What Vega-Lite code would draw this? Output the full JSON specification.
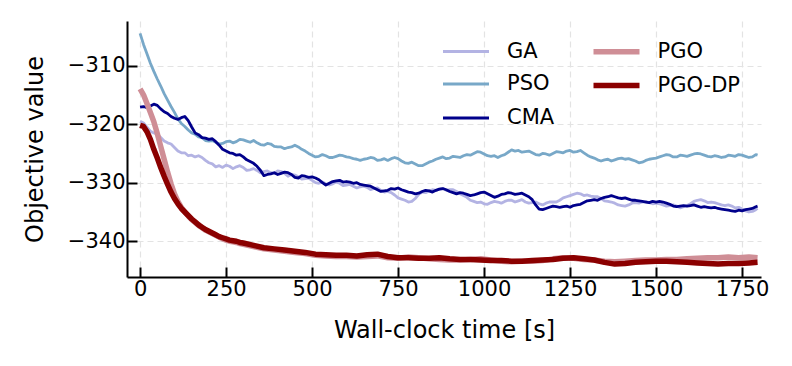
{
"$schema":"https://vega.github.io/schema/vega-lite/v6.json",
"width":634,"height":256,"autosize":"none",
"padding":{"left":127,"top":21,"right":31,"bottom":89},
"background":"white",
"config":{"view":{"stroke":null},"font":"DejaVu Sans"},
"data":{"values":[
{"t":0,"m":"GA","v":-319.5},{"t":10,"m":"GA","v":-319.8},{"t":20,"m":"GA","v":-320.5},{"t":30,"m":"GA","v":-321.2},{"t":40,"m":"GA","v":-321.5},{"t":50,"m":"GA","v":-321.7},{"t":60,"m":"GA","v":-322.3},{"t":70,"m":"GA","v":-322.9},{"t":80,"m":"GA","v":-323.2},{"t":90,"m":"GA","v":-323.4},{"t":100,"m":"GA","v":-324.0},{"t":110,"m":"GA","v":-324.6},{"t":120,"m":"GA","v":-324.9},{"t":130,"m":"GA","v":-324.9},{"t":140,"m":"GA","v":-325.4},{"t":150,"m":"GA","v":-325.3},{"t":160,"m":"GA","v":-325.6},{"t":170,"m":"GA","v":-325.4},{"t":180,"m":"GA","v":-325.7},{"t":190,"m":"GA","v":-326.2},{"t":200,"m":"GA","v":-326.6},{"t":210,"m":"GA","v":-326.8},{"t":220,"m":"GA","v":-327.3},{"t":230,"m":"GA","v":-327.1},{"t":240,"m":"GA","v":-327.4},{"t":250,"m":"GA","v":-327.0},{"t":260,"m":"GA","v":-327.2},{"t":270,"m":"GA","v":-327.6},{"t":280,"m":"GA","v":-327.3},{"t":290,"m":"GA","v":-327.1},{"t":300,"m":"GA","v":-327.4},{"t":310,"m":"GA","v":-327.9},{"t":320,"m":"GA","v":-327.8},{"t":330,"m":"GA","v":-327.6},{"t":340,"m":"GA","v":-327.9},{"t":350,"m":"GA","v":-328.3},{"t":360,"m":"GA","v":-328.1},{"t":370,"m":"GA","v":-328.0},{"t":380,"m":"GA","v":-328.3},{"t":390,"m":"GA","v":-328.4},{"t":400,"m":"GA","v":-328.0},{"t":410,"m":"GA","v":-328.1},{"t":420,"m":"GA","v":-328.4},{"t":430,"m":"GA","v":-328.9},{"t":440,"m":"GA","v":-328.6},{"t":450,"m":"GA","v":-328.7},{"t":460,"m":"GA","v":-329.0},{"t":470,"m":"GA","v":-329.4},{"t":480,"m":"GA","v":-329.3},{"t":490,"m":"GA","v":-329.2},{"t":500,"m":"GA","v":-329.6},{"t":510,"m":"GA","v":-330.0},{"t":520,"m":"GA","v":-330.1},{"t":530,"m":"GA","v":-329.9},{"t":540,"m":"GA","v":-330.2},{"t":550,"m":"GA","v":-330.4},{"t":560,"m":"GA","v":-330.2},{"t":570,"m":"GA","v":-329.9},{"t":580,"m":"GA","v":-330.1},{"t":590,"m":"GA","v":-330.5},{"t":600,"m":"GA","v":-330.4},{"t":610,"m":"GA","v":-330.3},{"t":620,"m":"GA","v":-330.6},{"t":630,"m":"GA","v":-330.9},{"t":640,"m":"GA","v":-330.7},{"t":650,"m":"GA","v":-330.6},{"t":660,"m":"GA","v":-330.8},{"t":670,"m":"GA","v":-331.2},{"t":680,"m":"GA","v":-331.0},{"t":690,"m":"GA","v":-330.9},{"t":700,"m":"GA","v":-331.3},{"t":710,"m":"GA","v":-331.6},{"t":720,"m":"GA","v":-331.5},{"t":730,"m":"GA","v":-331.7},{"t":740,"m":"GA","v":-332.1},{"t":750,"m":"GA","v":-332.6},{"t":760,"m":"GA","v":-332.8},{"t":770,"m":"GA","v":-333.0},{"t":780,"m":"GA","v":-333.3},{"t":790,"m":"GA","v":-333.2},{"t":800,"m":"GA","v":-332.7},{"t":810,"m":"GA","v":-332.0},{"t":820,"m":"GA","v":-331.6},{"t":830,"m":"GA","v":-331.7},{"t":840,"m":"GA","v":-331.4},{"t":850,"m":"GA","v":-331.2},{"t":860,"m":"GA","v":-331.3},{"t":870,"m":"GA","v":-331.1},{"t":880,"m":"GA","v":-331.0},{"t":890,"m":"GA","v":-331.3},{"t":900,"m":"GA","v":-331.2},{"t":910,"m":"GA","v":-331.2},{"t":920,"m":"GA","v":-331.5},{"t":930,"m":"GA","v":-331.9},{"t":940,"m":"GA","v":-332.2},{"t":950,"m":"GA","v":-332.5},{"t":960,"m":"GA","v":-333.0},{"t":970,"m":"GA","v":-333.2},{"t":980,"m":"GA","v":-333.4},{"t":990,"m":"GA","v":-333.3},{"t":1000,"m":"GA","v":-333.6},{"t":1010,"m":"GA","v":-333.7},{"t":1020,"m":"GA","v":-333.4},{"t":1030,"m":"GA","v":-333.2},{"t":1040,"m":"GA","v":-333.3},{"t":1050,"m":"GA","v":-333.5},{"t":1060,"m":"GA","v":-333.2},{"t":1070,"m":"GA","v":-333.0},{"t":1080,"m":"GA","v":-333.0},{"t":1090,"m":"GA","v":-333.3},{"t":1100,"m":"GA","v":-333.1},{"t":1110,"m":"GA","v":-332.9},{"t":1120,"m":"GA","v":-333.3},{"t":1130,"m":"GA","v":-333.5},{"t":1140,"m":"GA","v":-333.4},{"t":1150,"m":"GA","v":-333.3},{"t":1160,"m":"GA","v":-333.6},{"t":1170,"m":"GA","v":-333.8},{"t":1180,"m":"GA","v":-333.5},{"t":1190,"m":"GA","v":-333.3},{"t":1200,"m":"GA","v":-333.3},{"t":1210,"m":"GA","v":-333.3},{"t":1220,"m":"GA","v":-333.0},{"t":1230,"m":"GA","v":-332.6},{"t":1240,"m":"GA","v":-332.4},{"t":1250,"m":"GA","v":-332.2},{"t":1260,"m":"GA","v":-332.0},{"t":1270,"m":"GA","v":-331.8},{"t":1280,"m":"GA","v":-331.9},{"t":1290,"m":"GA","v":-332.2},{"t":1300,"m":"GA","v":-332.1},{"t":1310,"m":"GA","v":-332.3},{"t":1320,"m":"GA","v":-332.4},{"t":1330,"m":"GA","v":-332.4},{"t":1340,"m":"GA","v":-332.7},{"t":1350,"m":"GA","v":-333.1},{"t":1360,"m":"GA","v":-333.2},{"t":1370,"m":"GA","v":-333.3},{"t":1380,"m":"GA","v":-333.5},{"t":1390,"m":"GA","v":-333.8},{"t":1400,"m":"GA","v":-333.9},{"t":1410,"m":"GA","v":-334.0},{"t":1420,"m":"GA","v":-333.8},{"t":1430,"m":"GA","v":-333.5},{"t":1440,"m":"GA","v":-333.4},{"t":1450,"m":"GA","v":-333.5},{"t":1460,"m":"GA","v":-333.3},{"t":1470,"m":"GA","v":-333.2},{"t":1480,"m":"GA","v":-333.4},{"t":1490,"m":"GA","v":-333.6},{"t":1500,"m":"GA","v":-333.5},{"t":1510,"m":"GA","v":-333.6},{"t":1520,"m":"GA","v":-333.8},{"t":1530,"m":"GA","v":-334.0},{"t":1540,"m":"GA","v":-333.9},{"t":1550,"m":"GA","v":-333.8},{"t":1560,"m":"GA","v":-334.0},{"t":1570,"m":"GA","v":-334.3},{"t":1580,"m":"GA","v":-334.1},{"t":1590,"m":"GA","v":-333.9},{"t":1600,"m":"GA","v":-333.6},{"t":1610,"m":"GA","v":-333.2},{"t":1620,"m":"GA","v":-333.0},{"t":1630,"m":"GA","v":-332.9},{"t":1640,"m":"GA","v":-333.1},{"t":1650,"m":"GA","v":-333.4},{"t":1660,"m":"GA","v":-333.3},{"t":1670,"m":"GA","v":-333.4},{"t":1680,"m":"GA","v":-333.6},{"t":1690,"m":"GA","v":-333.8},{"t":1700,"m":"GA","v":-333.9},{"t":1710,"m":"GA","v":-333.8},{"t":1720,"m":"GA","v":-334.0},{"t":1730,"m":"GA","v":-334.3},{"t":1740,"m":"GA","v":-334.2},{"t":1750,"m":"GA","v":-334.5},{"t":1760,"m":"GA","v":-334.8},{"t":1770,"m":"GA","v":-335.0},{"t":1780,"m":"GA","v":-334.9},{"t":1790,"m":"GA","v":-334.6},{"t":1795,"m":"GA","v":-334.4},
{"t":0,"m":"PSO","v":-304.5},{"t":10,"m":"PSO","v":-306.4},{"t":20,"m":"PSO","v":-308.0},{"t":30,"m":"PSO","v":-309.6},{"t":40,"m":"PSO","v":-311.0},{"t":50,"m":"PSO","v":-312.3},{"t":60,"m":"PSO","v":-313.5},{"t":70,"m":"PSO","v":-314.8},{"t":80,"m":"PSO","v":-315.9},{"t":90,"m":"PSO","v":-317.0},{"t":100,"m":"PSO","v":-318.0},{"t":110,"m":"PSO","v":-319.1},{"t":120,"m":"PSO","v":-319.9},{"t":130,"m":"PSO","v":-320.4},{"t":140,"m":"PSO","v":-321.0},{"t":150,"m":"PSO","v":-321.5},{"t":160,"m":"PSO","v":-321.7},{"t":170,"m":"PSO","v":-322.2},{"t":180,"m":"PSO","v":-322.3},{"t":190,"m":"PSO","v":-322.8},{"t":200,"m":"PSO","v":-322.9},{"t":210,"m":"PSO","v":-322.8},{"t":220,"m":"PSO","v":-323.1},{"t":230,"m":"PSO","v":-323.4},{"t":240,"m":"PSO","v":-323.3},{"t":250,"m":"PSO","v":-323.0},{"t":260,"m":"PSO","v":-322.9},{"t":270,"m":"PSO","v":-323.2},{"t":280,"m":"PSO","v":-323.0},{"t":290,"m":"PSO","v":-322.6},{"t":300,"m":"PSO","v":-322.7},{"t":310,"m":"PSO","v":-322.9},{"t":320,"m":"PSO","v":-323.1},{"t":330,"m":"PSO","v":-322.8},{"t":340,"m":"PSO","v":-323.2},{"t":350,"m":"PSO","v":-323.5},{"t":360,"m":"PSO","v":-323.6},{"t":370,"m":"PSO","v":-323.3},{"t":380,"m":"PSO","v":-323.4},{"t":390,"m":"PSO","v":-323.8},{"t":400,"m":"PSO","v":-323.9},{"t":410,"m":"PSO","v":-323.9},{"t":420,"m":"PSO","v":-324.2},{"t":430,"m":"PSO","v":-324.0},{"t":440,"m":"PSO","v":-323.9},{"t":450,"m":"PSO","v":-323.6},{"t":460,"m":"PSO","v":-323.9},{"t":470,"m":"PSO","v":-324.3},{"t":480,"m":"PSO","v":-324.6},{"t":490,"m":"PSO","v":-325.0},{"t":500,"m":"PSO","v":-325.3},{"t":510,"m":"PSO","v":-325.6},{"t":520,"m":"PSO","v":-325.5},{"t":530,"m":"PSO","v":-325.2},{"t":540,"m":"PSO","v":-325.4},{"t":550,"m":"PSO","v":-325.7},{"t":560,"m":"PSO","v":-325.7},{"t":570,"m":"PSO","v":-325.5},{"t":580,"m":"PSO","v":-325.3},{"t":590,"m":"PSO","v":-325.4},{"t":600,"m":"PSO","v":-325.6},{"t":610,"m":"PSO","v":-325.7},{"t":620,"m":"PSO","v":-325.9},{"t":630,"m":"PSO","v":-326.0},{"t":640,"m":"PSO","v":-326.2},{"t":650,"m":"PSO","v":-326.0},{"t":660,"m":"PSO","v":-325.9},{"t":670,"m":"PSO","v":-325.7},{"t":680,"m":"PSO","v":-325.8},{"t":690,"m":"PSO","v":-326.2},{"t":700,"m":"PSO","v":-326.1},{"t":710,"m":"PSO","v":-325.9},{"t":720,"m":"PSO","v":-326.2},{"t":730,"m":"PSO","v":-325.9},{"t":740,"m":"PSO","v":-325.7},{"t":750,"m":"PSO","v":-325.9},{"t":760,"m":"PSO","v":-326.3},{"t":770,"m":"PSO","v":-326.6},{"t":780,"m":"PSO","v":-326.7},{"t":790,"m":"PSO","v":-326.5},{"t":800,"m":"PSO","v":-326.8},{"t":810,"m":"PSO","v":-327.1},{"t":820,"m":"PSO","v":-327.1},{"t":830,"m":"PSO","v":-326.8},{"t":840,"m":"PSO","v":-326.5},{"t":850,"m":"PSO","v":-326.3},{"t":860,"m":"PSO","v":-326.0},{"t":870,"m":"PSO","v":-325.8},{"t":880,"m":"PSO","v":-325.6},{"t":890,"m":"PSO","v":-325.9},{"t":900,"m":"PSO","v":-325.8},{"t":910,"m":"PSO","v":-325.5},{"t":920,"m":"PSO","v":-325.6},{"t":930,"m":"PSO","v":-325.7},{"t":940,"m":"PSO","v":-325.4},{"t":950,"m":"PSO","v":-325.2},{"t":960,"m":"PSO","v":-325.3},{"t":970,"m":"PSO","v":-325.0},{"t":980,"m":"PSO","v":-324.7},{"t":990,"m":"PSO","v":-324.8},{"t":1000,"m":"PSO","v":-325.1},{"t":1010,"m":"PSO","v":-325.4},{"t":1020,"m":"PSO","v":-325.5},{"t":1030,"m":"PSO","v":-325.4},{"t":1040,"m":"PSO","v":-325.7},{"t":1050,"m":"PSO","v":-325.4},{"t":1060,"m":"PSO","v":-325.2},{"t":1070,"m":"PSO","v":-324.8},{"t":1080,"m":"PSO","v":-324.4},{"t":1090,"m":"PSO","v":-324.6},{"t":1100,"m":"PSO","v":-324.5},{"t":1110,"m":"PSO","v":-324.8},{"t":1120,"m":"PSO","v":-324.7},{"t":1130,"m":"PSO","v":-324.6},{"t":1140,"m":"PSO","v":-324.9},{"t":1150,"m":"PSO","v":-325.2},{"t":1160,"m":"PSO","v":-325.3},{"t":1170,"m":"PSO","v":-325.0},{"t":1180,"m":"PSO","v":-325.1},{"t":1190,"m":"PSO","v":-325.3},{"t":1200,"m":"PSO","v":-325.0},{"t":1210,"m":"PSO","v":-324.7},{"t":1220,"m":"PSO","v":-324.8},{"t":1230,"m":"PSO","v":-324.9},{"t":1240,"m":"PSO","v":-324.6},{"t":1250,"m":"PSO","v":-324.5},{"t":1260,"m":"PSO","v":-324.8},{"t":1270,"m":"PSO","v":-324.7},{"t":1280,"m":"PSO","v":-324.5},{"t":1290,"m":"PSO","v":-324.9},{"t":1300,"m":"PSO","v":-325.3},{"t":1310,"m":"PSO","v":-325.6},{"t":1320,"m":"PSO","v":-325.8},{"t":1330,"m":"PSO","v":-326.1},{"t":1340,"m":"PSO","v":-326.3},{"t":1350,"m":"PSO","v":-326.1},{"t":1360,"m":"PSO","v":-326.0},{"t":1370,"m":"PSO","v":-326.3},{"t":1380,"m":"PSO","v":-326.1},{"t":1390,"m":"PSO","v":-325.9},{"t":1400,"m":"PSO","v":-325.8},{"t":1410,"m":"PSO","v":-326.0},{"t":1420,"m":"PSO","v":-325.9},{"t":1430,"m":"PSO","v":-326.1},{"t":1440,"m":"PSO","v":-326.3},{"t":1450,"m":"PSO","v":-326.6},{"t":1460,"m":"PSO","v":-326.5},{"t":1470,"m":"PSO","v":-326.2},{"t":1480,"m":"PSO","v":-326.0},{"t":1490,"m":"PSO","v":-325.9},{"t":1500,"m":"PSO","v":-325.8},{"t":1510,"m":"PSO","v":-325.6},{"t":1520,"m":"PSO","v":-325.4},{"t":1530,"m":"PSO","v":-325.2},{"t":1540,"m":"PSO","v":-325.3},{"t":1550,"m":"PSO","v":-325.6},{"t":1560,"m":"PSO","v":-325.6},{"t":1570,"m":"PSO","v":-325.3},{"t":1580,"m":"PSO","v":-325.4},{"t":1590,"m":"PSO","v":-325.5},{"t":1600,"m":"PSO","v":-325.3},{"t":1610,"m":"PSO","v":-325.1},{"t":1620,"m":"PSO","v":-325.0},{"t":1630,"m":"PSO","v":-325.1},{"t":1640,"m":"PSO","v":-325.3},{"t":1650,"m":"PSO","v":-325.5},{"t":1660,"m":"PSO","v":-325.6},{"t":1670,"m":"PSO","v":-325.4},{"t":1680,"m":"PSO","v":-325.5},{"t":1690,"m":"PSO","v":-325.7},{"t":1700,"m":"PSO","v":-325.6},{"t":1710,"m":"PSO","v":-325.3},{"t":1720,"m":"PSO","v":-325.4},{"t":1730,"m":"PSO","v":-325.5},{"t":1740,"m":"PSO","v":-325.2},{"t":1750,"m":"PSO","v":-325.3},{"t":1760,"m":"PSO","v":-325.5},{"t":1770,"m":"PSO","v":-325.7},{"t":1780,"m":"PSO","v":-325.6},{"t":1790,"m":"PSO","v":-325.2},{"t":1795,"m":"PSO","v":-325.3},
{"t":0,"m":"CMA","v":-317.1},{"t":10,"m":"CMA","v":-317.0},{"t":20,"m":"CMA","v":-317.2},{"t":30,"m":"CMA","v":-316.9},{"t":40,"m":"CMA","v":-316.6},{"t":50,"m":"CMA","v":-316.8},{"t":60,"m":"CMA","v":-317.4},{"t":70,"m":"CMA","v":-317.9},{"t":80,"m":"CMA","v":-318.2},{"t":90,"m":"CMA","v":-318.7},{"t":100,"m":"CMA","v":-319.0},{"t":110,"m":"CMA","v":-319.2},{"t":120,"m":"CMA","v":-318.9},{"t":130,"m":"CMA","v":-318.7},{"t":140,"m":"CMA","v":-319.4},{"t":150,"m":"CMA","v":-320.5},{"t":160,"m":"CMA","v":-321.5},{"t":170,"m":"CMA","v":-321.8},{"t":180,"m":"CMA","v":-322.3},{"t":190,"m":"CMA","v":-322.4},{"t":200,"m":"CMA","v":-322.6},{"t":210,"m":"CMA","v":-322.5},{"t":220,"m":"CMA","v":-323.0},{"t":230,"m":"CMA","v":-323.6},{"t":240,"m":"CMA","v":-324.3},{"t":250,"m":"CMA","v":-324.6},{"t":260,"m":"CMA","v":-324.9},{"t":270,"m":"CMA","v":-325.0},{"t":280,"m":"CMA","v":-325.3},{"t":290,"m":"CMA","v":-325.2},{"t":300,"m":"CMA","v":-325.6},{"t":310,"m":"CMA","v":-326.1},{"t":320,"m":"CMA","v":-326.4},{"t":330,"m":"CMA","v":-326.7},{"t":340,"m":"CMA","v":-327.2},{"t":350,"m":"CMA","v":-327.9},{"t":360,"m":"CMA","v":-328.8},{"t":370,"m":"CMA","v":-328.6},{"t":380,"m":"CMA","v":-328.5},{"t":390,"m":"CMA","v":-328.3},{"t":400,"m":"CMA","v":-328.6},{"t":410,"m":"CMA","v":-328.4},{"t":420,"m":"CMA","v":-328.2},{"t":430,"m":"CMA","v":-328.3},{"t":440,"m":"CMA","v":-328.6},{"t":450,"m":"CMA","v":-329.1},{"t":460,"m":"CMA","v":-329.2},{"t":470,"m":"CMA","v":-328.8},{"t":480,"m":"CMA","v":-328.9},{"t":490,"m":"CMA","v":-329.1},{"t":500,"m":"CMA","v":-329.0},{"t":510,"m":"CMA","v":-329.2},{"t":520,"m":"CMA","v":-329.5},{"t":530,"m":"CMA","v":-330.0},{"t":540,"m":"CMA","v":-330.4},{"t":550,"m":"CMA","v":-330.1},{"t":560,"m":"CMA","v":-329.8},{"t":570,"m":"CMA","v":-329.7},{"t":580,"m":"CMA","v":-329.6},{"t":590,"m":"CMA","v":-329.9},{"t":600,"m":"CMA","v":-329.8},{"t":610,"m":"CMA","v":-329.9},{"t":620,"m":"CMA","v":-330.1},{"t":630,"m":"CMA","v":-330.0},{"t":640,"m":"CMA","v":-330.3},{"t":650,"m":"CMA","v":-330.4},{"t":660,"m":"CMA","v":-330.5},{"t":670,"m":"CMA","v":-330.6},{"t":680,"m":"CMA","v":-330.9},{"t":690,"m":"CMA","v":-331.2},{"t":700,"m":"CMA","v":-331.5},{"t":710,"m":"CMA","v":-331.4},{"t":720,"m":"CMA","v":-331.3},{"t":730,"m":"CMA","v":-331.0},{"t":740,"m":"CMA","v":-331.1},{"t":750,"m":"CMA","v":-330.9},{"t":760,"m":"CMA","v":-331.2},{"t":770,"m":"CMA","v":-331.4},{"t":780,"m":"CMA","v":-331.6},{"t":790,"m":"CMA","v":-331.7},{"t":800,"m":"CMA","v":-331.9},{"t":810,"m":"CMA","v":-331.8},{"t":820,"m":"CMA","v":-331.5},{"t":830,"m":"CMA","v":-331.3},{"t":840,"m":"CMA","v":-331.4},{"t":850,"m":"CMA","v":-331.6},{"t":860,"m":"CMA","v":-331.3},{"t":870,"m":"CMA","v":-331.1},{"t":880,"m":"CMA","v":-331.0},{"t":890,"m":"CMA","v":-331.2},{"t":900,"m":"CMA","v":-331.5},{"t":910,"m":"CMA","v":-331.7},{"t":920,"m":"CMA","v":-331.9},{"t":930,"m":"CMA","v":-331.7},{"t":940,"m":"CMA","v":-331.8},{"t":950,"m":"CMA","v":-332.0},{"t":960,"m":"CMA","v":-332.2},{"t":970,"m":"CMA","v":-332.1},{"t":980,"m":"CMA","v":-331.9},{"t":990,"m":"CMA","v":-331.7},{"t":1000,"m":"CMA","v":-331.6},{"t":1010,"m":"CMA","v":-331.9},{"t":1020,"m":"CMA","v":-332.2},{"t":1030,"m":"CMA","v":-332.5},{"t":1040,"m":"CMA","v":-332.3},{"t":1050,"m":"CMA","v":-332.0},{"t":1060,"m":"CMA","v":-331.9},{"t":1070,"m":"CMA","v":-331.7},{"t":1080,"m":"CMA","v":-331.8},{"t":1090,"m":"CMA","v":-332.0},{"t":1100,"m":"CMA","v":-331.9},{"t":1110,"m":"CMA","v":-331.8},{"t":1120,"m":"CMA","v":-332.1},{"t":1130,"m":"CMA","v":-332.4},{"t":1140,"m":"CMA","v":-332.9},{"t":1150,"m":"CMA","v":-333.8},{"t":1160,"m":"CMA","v":-334.5},{"t":1170,"m":"CMA","v":-334.6},{"t":1180,"m":"CMA","v":-334.4},{"t":1190,"m":"CMA","v":-334.2},{"t":1200,"m":"CMA","v":-334.0},{"t":1210,"m":"CMA","v":-334.1},{"t":1220,"m":"CMA","v":-334.2},{"t":1230,"m":"CMA","v":-334.1},{"t":1240,"m":"CMA","v":-334.0},{"t":1250,"m":"CMA","v":-334.2},{"t":1260,"m":"CMA","v":-333.9},{"t":1270,"m":"CMA","v":-333.8},{"t":1280,"m":"CMA","v":-333.7},{"t":1290,"m":"CMA","v":-333.4},{"t":1300,"m":"CMA","v":-333.1},{"t":1310,"m":"CMA","v":-333.0},{"t":1320,"m":"CMA","v":-332.9},{"t":1330,"m":"CMA","v":-333.0},{"t":1340,"m":"CMA","v":-332.7},{"t":1350,"m":"CMA","v":-332.5},{"t":1360,"m":"CMA","v":-332.4},{"t":1370,"m":"CMA","v":-332.2},{"t":1380,"m":"CMA","v":-332.4},{"t":1390,"m":"CMA","v":-332.6},{"t":1400,"m":"CMA","v":-332.7},{"t":1410,"m":"CMA","v":-332.6},{"t":1420,"m":"CMA","v":-332.8},{"t":1430,"m":"CMA","v":-333.0},{"t":1440,"m":"CMA","v":-333.0},{"t":1450,"m":"CMA","v":-333.1},{"t":1460,"m":"CMA","v":-333.2},{"t":1470,"m":"CMA","v":-333.3},{"t":1480,"m":"CMA","v":-333.4},{"t":1490,"m":"CMA","v":-333.2},{"t":1500,"m":"CMA","v":-333.3},{"t":1510,"m":"CMA","v":-333.2},{"t":1520,"m":"CMA","v":-333.3},{"t":1530,"m":"CMA","v":-333.5},{"t":1540,"m":"CMA","v":-333.7},{"t":1550,"m":"CMA","v":-334.0},{"t":1560,"m":"CMA","v":-334.1},{"t":1570,"m":"CMA","v":-334.0},{"t":1580,"m":"CMA","v":-333.9},{"t":1590,"m":"CMA","v":-334.0},{"t":1600,"m":"CMA","v":-333.9},{"t":1610,"m":"CMA","v":-333.8},{"t":1620,"m":"CMA","v":-334.0},{"t":1630,"m":"CMA","v":-334.2},{"t":1640,"m":"CMA","v":-334.1},{"t":1650,"m":"CMA","v":-334.2},{"t":1660,"m":"CMA","v":-334.3},{"t":1670,"m":"CMA","v":-334.2},{"t":1680,"m":"CMA","v":-334.4},{"t":1690,"m":"CMA","v":-334.5},{"t":1700,"m":"CMA","v":-334.6},{"t":1710,"m":"CMA","v":-334.7},{"t":1720,"m":"CMA","v":-334.8},{"t":1730,"m":"CMA","v":-334.9},{"t":1740,"m":"CMA","v":-334.7},{"t":1750,"m":"CMA","v":-334.8},{"t":1760,"m":"CMA","v":-334.6},{"t":1770,"m":"CMA","v":-334.5},{"t":1780,"m":"CMA","v":-334.4},{"t":1790,"m":"CMA","v":-334.1},{"t":1795,"m":"CMA","v":-334.0},
{"t":0,"m":"PGO","v":-314.0},{"t":10,"m":"PGO","v":-315.0},{"t":20,"m":"PGO","v":-316.5},{"t":30,"m":"PGO","v":-318.0},{"t":40,"m":"PGO","v":-319.6},{"t":50,"m":"PGO","v":-321.6},{"t":60,"m":"PGO","v":-323.8},{"t":70,"m":"PGO","v":-326.0},{"t":80,"m":"PGO","v":-328.2},{"t":90,"m":"PGO","v":-330.2},{"t":100,"m":"PGO","v":-331.9},{"t":110,"m":"PGO","v":-333.2},{"t":120,"m":"PGO","v":-334.2},{"t":130,"m":"PGO","v":-335.0},{"t":140,"m":"PGO","v":-335.7},{"t":150,"m":"PGO","v":-336.3},{"t":160,"m":"PGO","v":-336.8},{"t":170,"m":"PGO","v":-337.3},{"t":180,"m":"PGO","v":-337.7},{"t":190,"m":"PGO","v":-338.1},{"t":200,"m":"PGO","v":-338.4},{"t":210,"m":"PGO","v":-338.7},{"t":220,"m":"PGO","v":-339.0},{"t":230,"m":"PGO","v":-339.3},{"t":240,"m":"PGO","v":-339.6},{"t":250,"m":"PGO","v":-339.8},{"t":260,"m":"PGO","v":-340.0},{"t":270,"m":"PGO","v":-340.1},{"t":280,"m":"PGO","v":-340.2},{"t":290,"m":"PGO","v":-340.4},{"t":300,"m":"PGO","v":-340.5},{"t":330,"m":"PGO","v":-340.9},{"t":360,"m":"PGO","v":-341.3},{"t":390,"m":"PGO","v":-341.5},{"t":420,"m":"PGO","v":-341.7},{"t":450,"m":"PGO","v":-341.9},{"t":480,"m":"PGO","v":-342.1},{"t":510,"m":"PGO","v":-342.4},{"t":540,"m":"PGO","v":-342.5},{"t":570,"m":"PGO","v":-342.6},{"t":600,"m":"PGO","v":-342.6},{"t":630,"m":"PGO","v":-342.7},{"t":660,"m":"PGO","v":-342.6},{"t":690,"m":"PGO","v":-342.5},{"t":720,"m":"PGO","v":-342.8},{"t":750,"m":"PGO","v":-342.9},{"t":780,"m":"PGO","v":-342.7},{"t":810,"m":"PGO","v":-342.8},{"t":840,"m":"PGO","v":-343.0},{"t":870,"m":"PGO","v":-343.1},{"t":900,"m":"PGO","v":-343.2},{"t":930,"m":"PGO","v":-343.2},{"t":960,"m":"PGO","v":-343.1},{"t":990,"m":"PGO","v":-343.0},{"t":1020,"m":"PGO","v":-343.2},{"t":1050,"m":"PGO","v":-343.4},{"t":1080,"m":"PGO","v":-343.5},{"t":1110,"m":"PGO","v":-343.4},{"t":1140,"m":"PGO","v":-343.4},{"t":1170,"m":"PGO","v":-343.3},{"t":1200,"m":"PGO","v":-343.0},{"t":1230,"m":"PGO","v":-342.8},{"t":1260,"m":"PGO","v":-342.9},{"t":1290,"m":"PGO","v":-343.1},{"t":1320,"m":"PGO","v":-343.2},{"t":1350,"m":"PGO","v":-343.4},{"t":1380,"m":"PGO","v":-343.5},{"t":1410,"m":"PGO","v":-343.4},{"t":1440,"m":"PGO","v":-343.3},{"t":1470,"m":"PGO","v":-343.2},{"t":1500,"m":"PGO","v":-343.2},{"t":1530,"m":"PGO","v":-343.1},{"t":1560,"m":"PGO","v":-343.1},{"t":1590,"m":"PGO","v":-343.0},{"t":1620,"m":"PGO","v":-342.9},{"t":1650,"m":"PGO","v":-342.8},{"t":1680,"m":"PGO","v":-342.8},{"t":1710,"m":"PGO","v":-342.7},{"t":1740,"m":"PGO","v":-342.8},{"t":1770,"m":"PGO","v":-342.7},{"t":1795,"m":"PGO","v":-342.8},
{"t":0,"m":"PGO-DP","v":-320.2},{"t":10,"m":"PGO-DP","v":-320.4},{"t":20,"m":"PGO-DP","v":-321.3},{"t":30,"m":"PGO-DP","v":-322.6},{"t":40,"m":"PGO-DP","v":-324.3},{"t":50,"m":"PGO-DP","v":-325.8},{"t":60,"m":"PGO-DP","v":-327.4},{"t":70,"m":"PGO-DP","v":-328.9},{"t":80,"m":"PGO-DP","v":-330.3},{"t":90,"m":"PGO-DP","v":-331.6},{"t":100,"m":"PGO-DP","v":-332.7},{"t":110,"m":"PGO-DP","v":-333.6},{"t":120,"m":"PGO-DP","v":-334.4},{"t":130,"m":"PGO-DP","v":-335.0},{"t":140,"m":"PGO-DP","v":-335.6},{"t":150,"m":"PGO-DP","v":-336.2},{"t":160,"m":"PGO-DP","v":-336.7},{"t":170,"m":"PGO-DP","v":-337.2},{"t":180,"m":"PGO-DP","v":-337.6},{"t":190,"m":"PGO-DP","v":-338.0},{"t":200,"m":"PGO-DP","v":-338.3},{"t":210,"m":"PGO-DP","v":-338.6},{"t":220,"m":"PGO-DP","v":-338.9},{"t":230,"m":"PGO-DP","v":-339.2},{"t":240,"m":"PGO-DP","v":-339.4},{"t":250,"m":"PGO-DP","v":-339.6},{"t":260,"m":"PGO-DP","v":-339.8},{"t":270,"m":"PGO-DP","v":-339.9},{"t":280,"m":"PGO-DP","v":-340.0},{"t":290,"m":"PGO-DP","v":-340.2},{"t":300,"m":"PGO-DP","v":-340.3},{"t":330,"m":"PGO-DP","v":-340.7},{"t":360,"m":"PGO-DP","v":-341.1},{"t":390,"m":"PGO-DP","v":-341.3},{"t":420,"m":"PGO-DP","v":-341.5},{"t":450,"m":"PGO-DP","v":-341.7},{"t":480,"m":"PGO-DP","v":-341.9},{"t":510,"m":"PGO-DP","v":-342.2},{"t":540,"m":"PGO-DP","v":-342.3},{"t":570,"m":"PGO-DP","v":-342.4},{"t":600,"m":"PGO-DP","v":-342.4},{"t":630,"m":"PGO-DP","v":-342.5},{"t":660,"m":"PGO-DP","v":-342.3},{"t":690,"m":"PGO-DP","v":-342.2},{"t":720,"m":"PGO-DP","v":-342.6},{"t":750,"m":"PGO-DP","v":-342.8},{"t":780,"m":"PGO-DP","v":-342.8},{"t":810,"m":"PGO-DP","v":-342.9},{"t":840,"m":"PGO-DP","v":-342.9},{"t":870,"m":"PGO-DP","v":-342.8},{"t":900,"m":"PGO-DP","v":-343.0},{"t":930,"m":"PGO-DP","v":-343.1},{"t":960,"m":"PGO-DP","v":-343.1},{"t":990,"m":"PGO-DP","v":-343.2},{"t":1020,"m":"PGO-DP","v":-343.3},{"t":1050,"m":"PGO-DP","v":-343.3},{"t":1080,"m":"PGO-DP","v":-343.4},{"t":1110,"m":"PGO-DP","v":-343.4},{"t":1140,"m":"PGO-DP","v":-343.3},{"t":1170,"m":"PGO-DP","v":-343.2},{"t":1200,"m":"PGO-DP","v":-343.1},{"t":1230,"m":"PGO-DP","v":-342.9},{"t":1260,"m":"PGO-DP","v":-342.8},{"t":1290,"m":"PGO-DP","v":-343.0},{"t":1320,"m":"PGO-DP","v":-343.2},{"t":1350,"m":"PGO-DP","v":-343.6},{"t":1380,"m":"PGO-DP","v":-343.9},{"t":1410,"m":"PGO-DP","v":-343.8},{"t":1440,"m":"PGO-DP","v":-343.6},{"t":1470,"m":"PGO-DP","v":-343.5},{"t":1500,"m":"PGO-DP","v":-343.4},{"t":1530,"m":"PGO-DP","v":-343.4},{"t":1560,"m":"PGO-DP","v":-343.5},{"t":1590,"m":"PGO-DP","v":-343.6},{"t":1620,"m":"PGO-DP","v":-343.7},{"t":1650,"m":"PGO-DP","v":-343.8},{"t":1680,"m":"PGO-DP","v":-343.9},{"t":1710,"m":"PGO-DP","v":-343.8},{"t":1740,"m":"PGO-DP","v":-343.8},{"t":1770,"m":"PGO-DP","v":-343.7},{"t":1795,"m":"PGO-DP","v":-343.6}
]},
"mark":{"type":"line","clip":true,"strokeJoin":"round"},
"encoding":{
"x":{"field":"t","type":"quantitative","scale":{"domain":[-38,1805],"nice":false,"zero":false},
 "axis":{"values":[0,250,500,750,1000,1250,1500,1750],"format":"d","title":"Wall-clock time [s]","titleFont":"DejaVu Sans","titleFontSize":24,"titleFontWeight":"normal","titleColor":"black","titlePadding":19,"labelFont":"DejaVu Sans","labelFontSize":21,"labelColor":"black","labelPadding":11,"labelFlush":false,"labelOverlap":false,"tickSize":-10,"tickWidth":2,"tickColor":"black","domainColor":"black","domainWidth":2,"grid":true,"gridColor":"#e3e3e3","gridDash":[6,4],"gridWidth":1.2}},
"y":{"field":"v","type":"quantitative","scale":{"domain":[-346.1,-302.4],"nice":false,"zero":false},
 "axis":{"values":[-340,-330,-320,-310],"format":"d","title":"Objective value","titleFont":"DejaVu Sans","titleFontSize":24,"titleFontWeight":"normal","titleColor":"black","titlePadding":20,"labelFont":"DejaVu Sans","labelFontSize":21,"labelColor":"black","labelPadding":12,"labelOverlap":false,"tickSize":-10,"tickWidth":2,"tickColor":"black","domainColor":"black","domainWidth":2,"grid":true,"gridColor":"#e3e3e3","gridDash":[6,4],"gridWidth":1.2}},
"color":{"field":"m","type":"nominal","scale":{"domain":["GA","PSO","CMA","PGO","PGO-DP"],"range":["#b3b3e3","#78a8c8","#00008b","#cf8e96","#8b0000"]},
 "legend":{"orient":"none","legendX":324.5,"legendY":16,"direction":"vertical","columns":2,"title":null,"symbolType":"M-2,0L2,0","symbolSize":529,"labelFont":"DejaVu Sans","labelFontSize":21,"labelColor":"black","labelOffset":26.5,"rowPadding":8,"columnPadding":27.5,"padding":0}},
"strokeWidth":{"field":"m","type":"nominal","scale":{"type":"ordinal","domain":["GA","PSO","CMA","PGO","PGO-DP"],"range":[2.8,2.8,2.8,5.5,5.5]}}
}
}
